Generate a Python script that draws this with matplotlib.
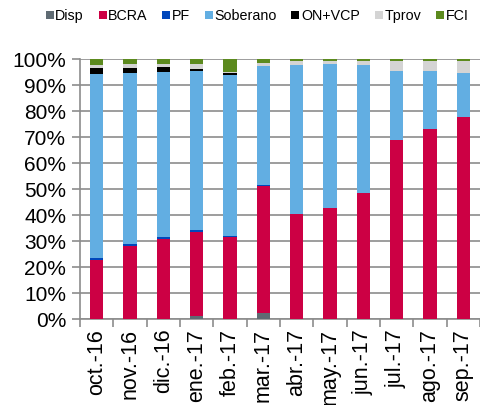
import numpy as np
import matplotlib
matplotlib.use('Agg')
import matplotlib.pyplot as plt
from matplotlib.lines import Line2D

plt.rcParams['font.family'] = ['Liberation Sans', 'DejaVu Sans']

# Shares by holder (%)
months = ['oct.-16', 'nov.-16', 'dic.-16', 'ene.-17', 'feb.-17', 'mar.-17',
          'abr.-17', 'may.-17', 'jun.-17', 'jul.-17', 'ago.-17', 'sep.-17']
disp     = np.array([0.0, 0.0, 0.0, 1.3, 0.0, 2.4, 0.0, 0.0, 0.0, 0.0, 0.0, 0.0])
bcra     = np.array([22.9, 28.3, 30.9, 32.4, 31.4, 48.9, 40.3, 42.7, 48.5, 69.0, 73.1, 77.8])
pf       = np.array([0.6, 0.5, 0.5, 0.5, 0.6, 0.2, 0.0, 0.0, 0.0, 0.0, 0.0, 0.0])
soberano = np.array([70.7, 65.7, 63.7, 61.3, 61.8, 45.9, 57.5, 55.4, 49.3, 26.6, 22.4, 16.8])
on_vcp   = np.array([2.2, 2.0, 1.7, 0.8, 0.9, 0.0, 0.0, 0.0, 0.0, 0.0, 0.0, 0.0])
tprov    = np.array([1.5, 1.5, 1.4, 1.8, 0.3, 1.2, 1.4, 1.1, 1.4, 3.6, 3.7, 4.5])
fci      = np.array([2.1, 2.0, 1.8, 1.9, 5.0, 1.4, 0.8, 0.8, 0.8, 0.8, 0.8, 0.9])

series = [('Disp', disp, '#5f6b73'), ('BCRA', bcra, '#cc0044'), ('PF', pf, '#0047bb'),
          ('Soberano', soberano, '#62aee2'), ('ON+VCP', on_vcp, '#000000'),
          ('Tprov', tprov, '#d4d4d4'), ('FCI', fci, '#5c8a1e')]

fig = plt.figure(figsize=(4.8, 4.05), dpi=100)
ax = fig.add_axes([0.1667, 0.212, 0.833, 0.642])

# normalise so each bar sums to 100%
total = sum(s[1] for s in series)
x = np.arange(len(months))
bottom = np.zeros(len(months))
for name, vals, col in series:
    share = vals / total
    ax.bar(x, share, 0.4, bottom=bottom, color=col, linewidth=0, zorder=3)
    bottom += share

ax.set_ylim(0, 1)
ax.set_xlim(-0.5, len(months) - 0.5)
ax.set_yticks(np.arange(0, 1.01, 0.1))
ax.set_yticklabels(['%d%%' % v for v in range(0, 101, 10)], fontsize=15)
ax.yaxis.grid(True, color='#8c8c8c', linewidth=1.2, zorder=0)
ax.set_axisbelow(True)

ax.set_xticks(x)
ax.set_xticklabels(months, rotation=90, fontsize=15.5)
ax.set_xticks(np.arange(-0.5, len(months), 1), minor=True)
ax.tick_params(axis='x', which='major', length=0, pad=7)
ax.tick_params(axis='x', which='minor', length=6, color='#8c8c8c', width=1.2)
ax.tick_params(axis='y', length=6, color='#8c8c8c', width=1.2, pad=4)

for s in ['top', 'right']:
    ax.spines[s].set_visible(False)
for s in ['left', 'bottom']:
    ax.spines[s].set_color('#8c8c8c')
    ax.spines[s].set_linewidth(1.2)

handles = [Line2D([], [], marker='s', linestyle='none', markersize=6,
                  markerfacecolor=c, markeredgewidth=0, label=n) for n, v, c in series]
fig.legend(handles=handles, loc='upper left', bbox_to_anchor=(0.075, 1.0), ncol=7,
           frameon=False, fontsize=10.3, handletextpad=0.05, columnspacing=0.95,
           handlelength=0.7, borderaxespad=0.3, borderpad=0.3)

plt.savefig('out.png', dpi=100)
